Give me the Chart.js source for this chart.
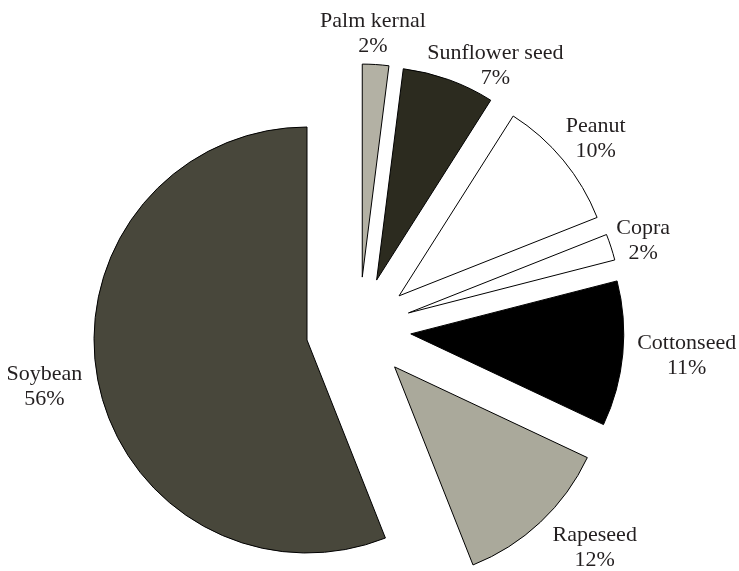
<!DOCTYPE html>
<html><head><meta charset="utf-8">
<script src="https://cdn.jsdelivr.net/npm/chart.js@4.4.1/dist/chart.umd.min.js"></script>
<style>html,body{margin:0;padding:0;background:#fff;overflow:hidden}#wrap{position:relative;width:739px;height:571px}</style>
</head><body><div id="wrap"><canvas id="c" width="739" height="571"></canvas></div>
<script>
// ---- data ----
const categories = ['Palm kernal', 'Sunflower seed', 'Peanut', 'Copra', 'Cottonseed', 'Rapeseed', 'Soybean'];
const shares = [2, 7, 10, 2, 11, 12, 56];
const percentLabels = ['2%', '7%', '10%', '2%', '11%', '12%', '56%'];
const explodedSlices = [true, true, true, true, true, true, false];

// ---- style / layout ----
const sliceColors = ['#b3b1a4', '#2c2b1f', '#ffffff', '#ffffff', '#000000', '#aaa99b', '#48473b'];
const GROUP_SHIFT = {x: 52, y: -11};
const EXPLODE = 52;
const LABEL_RADIUS = 250;
const LABEL_NUDGE = [[-5, 6], [34, 21], [4, 2], [-3, 5], [27, -2], [29, -1], [-17, 0]];
const FONT = '22px "Liberation Serif", "Times New Roman", serif';
const LINE_GAP = 25;

function shiftFor(arc, i) {
  if (!explodedSlices[i]) return {dx: 0, dy: 0};
  const mid = (arc.startAngle + arc.endAngle) / 2;
  return {dx: GROUP_SHIFT.x + EXPLODE * Math.cos(mid), dy: GROUP_SHIFT.y + EXPLODE * Math.sin(mid)};
}

const explodePlugin = {
  id: 'explode',
  beforeDatasetsDraw(chart) {
    const ctx = chart.ctx;
    const meta = chart.getDatasetMeta(0);
    meta.data.forEach((arc, i) => {
      const s = shiftFor(arc, i);
      ctx.save();
      ctx.translate(s.dx, s.dy);
      arc.draw(ctx);
      ctx.restore();
    });
    return false;
  },
  afterDraw(chart) {
    const ctx = chart.ctx;
    const meta = chart.getDatasetMeta(0);
    ctx.save();
    ctx.font = FONT;
    ctx.fillStyle = '#231f20';
    ctx.textAlign = 'center';
    ctx.textBaseline = 'middle';
    meta.data.forEach((arc, i) => {
      const s = shiftFor(arc, i);
      const mid = (arc.startAngle + arc.endAngle) / 2;
      const cx = arc.x + s.dx + LABEL_RADIUS * Math.cos(mid) + LABEL_NUDGE[i][0];
      const cy = arc.y + s.dy + LABEL_RADIUS * Math.sin(mid) + LABEL_NUDGE[i][1];
      ctx.fillText(categories[i], cx, cy - LINE_GAP / 2);
      ctx.fillText(percentLabels[i], cx, cy + LINE_GAP / 2);
    });
    ctx.restore();
  }
};

new Chart(document.getElementById('c'), {
  type: 'pie',
  data: {
    labels: categories,
    datasets: [{
      data: shares,
      backgroundColor: sliceColors,
      borderColor: '#000000',
      borderWidth: 1,
      borderJoinStyle: 'miter',
      borderAlign: 'center',
      radius: 213
    }]
  },
  options: {
    responsive: false,
    animation: false,
    layout: {padding: {left: 0, right: 125, top: 109, bottom: 0}},
    plugins: {legend: {display: false}, tooltip: {enabled: false}}
  },
  plugins: [explodePlugin]
});
</script>
</body></html>
